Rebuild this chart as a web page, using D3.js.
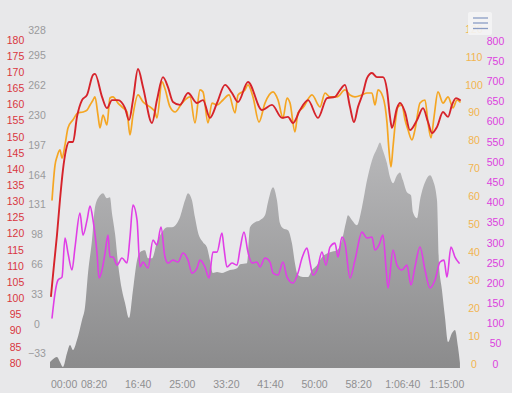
<!DOCTYPE html>
<html>
<head>
<meta charset="utf-8">
<script src="https://cdn.jsdelivr.net/npm/d3@7"></script>
<style>
  html, body { margin: 0; padding: 0; background: #e8e8ea; }
  svg { display: block; font-family: "Liberation Sans", Arial, Helvetica, sans-serif; }
</style>
</head>
<body>
<svg id="chart" width="512" height="393"></svg>
<script>
// ---- data (time in seconds) ----
const hrTime = [11,45,79,113,147,181,215,261,306,363,420,488,510,590,646,703,771,851,896,941,998,1055,1157,1213,1281,1338,1395,1474,1565,1667,1735,1814,1894,1985,2064,2132,2245,2404,2517,2631,2699,2756,2835,2926,3039,3141,3232,3289,3345,3402,3447,3493,3549,3595,3651,3708,3776,3822,3856,3878,3935,3969,4026,4082,4162,4230,4287,4332,4389,4457,4514,4559,4604,4649];
const hrValues = [100.7,110.3,119.6,130.5,139.8,145.9,148.4,148.4,156.2,161.4,163.0,169.2,169.5,162.4,158.9,161.4,161.4,158.9,155.2,161.4,171.0,165.4,154.3,161.4,168.5,165.4,160.8,159.9,163.6,160.5,161.4,155.9,160.5,166.1,163.6,160.8,167.0,158.3,159.9,155.9,156.2,154.3,158.3,161.4,155.9,162.0,162.4,164.5,166.1,159.3,154.6,159.3,163.6,168.2,169.8,168.5,168.5,164.5,156.2,152.8,158.9,160.5,157.7,152.1,155.2,158.9,154.6,151.2,153.1,157.7,156.2,159.9,162.0,161.4];

const cadTime = [23,57,79,113,136,170,204,261,318,374,420,454,488,510,544,567,601,646,680,714,771,828,873,907,941,998,1055,1134,1191,1213,1270,1304,1361,1418,1497,1588,1644,1701,1735,1792,1837,1894,1962,2030,2098,2132,2211,2245,2302,2370,2438,2529,2586,2642,2688,2722,2778,2812,2869,2971,3062,3119,3175,3255,3345,3402,3459,3538,3595,3651,3686,3720,3776,3822,3844,3867,3890,3924,3946,3992,4026,4060,4105,4139,4196,4253,4287,4321,4355,4400,4457,4514,4570,4616,4649];
const cadValues = [58.8,71.3,74.2,76.7,73.8,78.5,84.6,87.5,90.0,90.3,91.0,92.8,94.6,95.7,89.2,84.6,89.2,85.7,95.3,95.7,93.5,91.8,90.3,82.1,89.2,96.4,93.9,92.1,90.3,88.2,101.1,98.6,92.1,90.3,93.5,95.7,86.4,98.2,97.5,86.4,93.5,92.8,94.6,96.4,90.0,96.4,98.2,100.0,95.7,86.7,93.5,97.5,94.6,88.2,95.3,93.5,83.2,90.0,91.8,96.4,92.1,97.1,95.7,95.7,98.2,96.4,95.7,96.4,97.1,97.1,92.8,98.2,95.7,86.4,76.7,70.6,77.8,88.5,92.1,92.8,87.5,83.9,80.3,83.9,93.5,94.6,86.4,81.0,88.5,97.5,93.5,95.7,91.8,94.6,93.9];

const powTime = [23,57,91,136,170,204,249,284,340,374,420,454,488,533,556,590,624,658,680,714,760,816,873,907,941,987,1021,1055,1111,1168,1213,1259,1304,1338,1395,1452,1508,1565,1610,1667,1701,1758,1803,1848,1894,1950,1973,2007,2064,2121,2155,2200,2245,2291,2347,2381,2438,2495,2529,2586,2642,2688,2756,2812,2858,2914,2948,2982,3028,3084,3130,3175,3232,3266,3311,3345,3402,3459,3538,3595,3651,3686,3731,3776,3810,3833,3890,3935,3992,4048,4094,4139,4196,4253,4309,4366,4423,4468,4502,4547,4593,4639];
const powValues = [113.9,175.7,207.9,215.3,311.9,274.8,232.7,289.6,373.8,319.3,356.4,391.1,356.4,274.8,212.9,232.7,274.8,319.3,264.9,264.9,245.0,262.4,250.0,314.4,393.6,356.4,240.1,252.5,237.6,306.9,294.6,339.1,264.9,250.0,257.4,252.5,274.8,257.4,225.2,237.6,257.4,240.1,212.9,277.2,277.2,324.3,287.1,240.1,250.0,245.0,284.7,326.7,277.2,250.0,252.5,240.1,262.4,252.5,225.2,220.3,252.5,215.3,200.5,225.2,262.4,287.1,252.5,220.3,232.7,277.2,245.0,289.6,299.5,264.9,314.4,299.5,212.9,257.4,326.7,311.9,314.4,282.2,294.6,319.3,240.1,188.1,282.2,245.0,232.7,245.0,195.5,240.1,289.6,232.7,188.1,207.9,252.5,257.4,215.3,289.6,264.9,250.0];

const eleTime = [0,23,79,113,147,193,227,261,306,363,397,431,476,510,567,601,646,680,703,737,771,816,851,896,941,987,1021,1077,1111,1157,1213,1270,1327,1383,1440,1474,1531,1565,1610,1644,1678,1735,1780,1814,1848,1894,1950,1985,2041,2121,2155,2234,2268,2325,2381,2438,2472,2529,2574,2608,2642,2699,2744,2778,2812,2869,2926,2971,3028,3084,3175,3255,3311,3357,3379,3425,3481,3538,3595,3651,3708,3742,3776,3822,3856,3890,3935,3969,4003,4048,4094,4116,4162,4196,4253,4309,4343,4389,4411,4445,4479,4514,4559,4593,4627,4649];
const eleValues = [-41.7,-39.5,-36.2,-41.7,-47.2,-31.8,-23.1,-28.5,-17.6,4.4,18.7,56.0,92.2,128.4,141.6,143.8,138.3,139.4,121.8,99.9,67.0,37.3,23.1,6.6,37.3,70.3,79.0,81.2,72.4,72.4,90.0,101.0,106.5,106.5,110.9,117.5,136.1,143.8,136.1,117.5,101.0,90.0,84.5,70.3,56.0,57.1,56.0,57.1,59.3,61.5,65.9,67.0,106.5,112.0,114.2,119.6,133.9,150.4,136.1,110.9,105.4,103.2,88.9,67.0,53.8,51.6,51.6,59.3,64.8,73.5,79.0,81.2,92.2,112.0,119.6,114.2,108.7,128.4,158.1,180.0,193.2,199.8,191.0,176.7,161.4,154.8,163.6,166.8,158.1,144.9,141.6,122.9,116.4,136.1,155.9,163.6,158.1,136.1,67.0,37.3,7.7,-19.8,-9.9,-6.6,-25.2,-42.8];

// tick labels
const timeTicks = [0,500,1000,1500,2000,2500,3000,3500,4000,4500];
const hrTicks = [80,85,90,95,100,105,110,115,120,125,130,135,140,145,150,155,160,165,170,175,180];
const eleTicks = [-32.8,0,32.8,65.6,98.4,131.2,164,196.8,229.6,262.4,295.2,328];
const cadTicks = [0,10,20,30,40,50,60,70,80,90,100,110,120];
const powTicks = [0,50,100,150,200,250,300,350,400,450,500,550,600,650,700,750,800];

// ---- chart ----
const svg = d3.select("#chart");
const W = 512, H = 393;
const plotBottom = 368;

svg.append("rect").attr("width", W).attr("height", H).attr("fill", "#e8e8ea");

const x = d3.scaleLinear().domain([0, 4500]).range([50, 446.8]);
const yHr = d3.scaleLinear().domain([80, 180]).range([363, 40]);
const yEle = d3.scaleLinear().domain([0, 328]).range([324, 26]);
const yCad = d3.scaleLinear().domain([0, 110]).range([364, 57]);
const yPow = d3.scaleLinear().domain([0, 800]).range([364, 41]);

const zip = (ts, vs) => ts.map((t, i) => ({t, v: vs[i]}));

// gradient for elevation
const defs = svg.append("defs");
const grad = defs.append("linearGradient").attr("id", "eleGrad")
  .attr("gradientUnits", "userSpaceOnUse").attr("x1", 0).attr("x2", 0).attr("y1", 140).attr("y2", plotBottom);
grad.append("stop").attr("offset", "0%").attr("stop-color", "#b9b9bb");
grad.append("stop").attr("offset", "100%").attr("stop-color", "#8b8b8c");

svg.append("path")
  .datum(zip(eleTime, eleValues))
  .attr("fill", "url(#eleGrad)")
  .attr("d", d3.area().x(d => x(d.t)).y0(plotBottom).y1(d => yEle(d.v)).curve(d3.curveMonotoneX));

function line(ts, vs, scale, color, w) {
  svg.append("path")
    .datum(zip(ts, vs))
    .attr("fill", "none")
    .attr("stroke", color)
    .attr("stroke-width", w)
    .attr("stroke-linejoin", "round")
    .attr("stroke-linecap", "round")
    .attr("d", d3.line().x(d => x(d.t)).y(d => scale(d.v)).curve(d3.curveMonotoneX));
}
line(powTime, powValues, yPow, "#e03ee6", 1.6);
line(cadTime, cadValues, yCad, "#f5a623", 1.7);
line(hrTime, hrValues, yHr, "#d6232b", 1.9);

// ---- axes (labels only, no lines) ----
const fs = "10.5px";
function yLabels(ticks, scale, xpos, color, fmt, minY) {
  svg.append("g").selectAll("text").data(ticks).join("text")
    .attr("x", xpos)
    .attr("y", d => Math.max(scale(d), minY || 0))
    .attr("dy", "0.35em")
    .attr("text-anchor", "middle")
    .attr("fill", color)
    .style("font-size", fs)
    .text(fmt);
}
yLabels(hrTicks, yHr, 15.5, "#d9363e", d => d);
yLabels(eleTicks, yEle, 37, "#9a9a9c", d => d3.format(".0f")(d), 30);
yLabels(cadTicks, yCad, 474, "#f2b450", d => d);
yLabels(powTicks, yPow, 495.5, "#dc3fde", d => d);

function fmtTime(s) {
  const h = Math.floor(s / 3600), m = Math.floor((s % 3600) / 60), sec = s % 60;
  const p = n => String(n).padStart(2, "0");
  return h > 0 ? `${h}:${p(m)}:${p(sec)}` : `${p(m)}:${p(sec)}`;
}
svg.append("g").selectAll("text").data(timeTicks).join("text")
  .attr("x", d => d === 0 ? x(d) + 1 : x(d))
  .attr("y", 384)
  .attr("dy", "0.35em")
  .attr("text-anchor", d => d === 0 ? "start" : "middle")
  .attr("fill", "#8f8f91")
  .style("font-size", fs)
  .text(fmtTime);

// ---- menu button (top right) ----
const btn = svg.append("g");
btn.append("rect").attr("x", 468).attr("y", 12).attr("width", 24).attr("height", 23).attr("rx", 2)
  .attr("fill", "#f4f4f5").attr("opacity", 0.9);
[18, 23, 28.5].forEach(yy => {
  btn.append("line").attr("x1", 473).attr("x2", 488).attr("y1", yy).attr("y2", yy)
    .attr("stroke", "#8a9cc4").attr("stroke-width", 1.3);
});
</script>
</body>
</html>
